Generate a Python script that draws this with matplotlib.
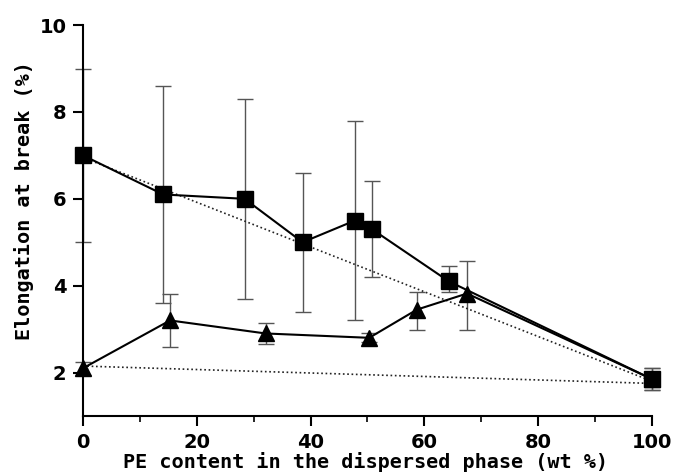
import matplotlib.pyplot as plt

# elongation at break vs PE content, squares = blend series 1, triangles = series 2
sq_x = [0, 14.1, 28.4, 38.6, 47.8, 50.8, 64.3, 100]
sq_y = [7.0, 6.1, 6.0, 5.0, 5.5, 5.3, 4.1, 1.85]
sq_lo = [5.0, 3.6, 3.7, 3.4, 3.2, 4.2, 3.85, 1.6]
sq_hi = [9.0, 8.6, 8.3, 6.6, 7.8, 6.4, 4.45, 2.1]

tri_x = [0, 15.3, 32.1, 50.3, 58.7, 67.5, 100]
tri_y = [2.1, 3.2, 2.9, 2.8, 3.45, 3.82, 1.85]
tri_lo = [1.95, 2.6, 2.65, 2.7, 2.97, 2.97, 1.6]
tri_hi = [2.25, 3.8, 3.15, 2.9, 3.85, 4.57, 2.1]

# additivity reference lines
add_sq_x = [0, 100]
add_sq_y = [6.95, 1.8]
add_tri_x = [0, 100]
add_tri_y = [2.15, 1.75]

xticks = [0, 20, 40, 60, 80, 100]
yticks = [2, 4, 6, 8, 10]

fig = plt.figure(figsize=(6.77, 4.73), dpi=100)
ax = fig.add_axes([0.1226, 0.1205, 0.8404, 0.8265])

err_kw = dict(ecolor='#555555', elinewidth=1.0, capsize=6, capthick=1.0)

sq_err = [[y - lo for y, lo in zip(sq_y, sq_lo)], [hi - y for y, hi in zip(sq_y, sq_hi)]]
tri_err = [[y - lo for y, lo in zip(tri_y, tri_lo)], [hi - y for y, hi in zip(tri_y, tri_hi)]]

ax.errorbar(sq_x, sq_y, yerr=sq_err, fmt='none', zorder=1, clip_on=False, **err_kw)
ax.errorbar(tri_x, tri_y, yerr=tri_err, fmt='none', zorder=1, clip_on=False, **err_kw)

dots = (0, (1.0, 1.6))
ax.plot(add_sq_x, add_sq_y, color='#222222', linestyle=dots, linewidth=1.2, zorder=2)
ax.plot(add_tri_x, add_tri_y, color='#222222', linestyle=dots, linewidth=1.2, zorder=2)

ax.plot(sq_x, sq_y, color='black', linewidth=1.5, marker='s', markersize=11,
        zorder=3, clip_on=False)
ax.plot(tri_x, tri_y, color='black', linewidth=1.5, marker='^', markersize=12,
        zorder=3, clip_on=False)

ax.set_xlim(0, 100)
ax.set_ylim(1, 10)
ax.spines['top'].set_visible(False)
ax.spines['right'].set_visible(False)
ax.spines['left'].set_linewidth(1.5)
ax.spines['bottom'].set_linewidth(1.5)

ax.set_xticks(xticks)
ax.set_yticks(yticks)
ax.set_xticks([10, 30, 50, 70, 90], minor=True)
ax.tick_params(axis='both', which='major', direction='out', length=7, width=1.5,
               labelsize=14, pad=5)
ax.tick_params(axis='x', which='minor', direction='out', length=4, width=1.2)
for lab in ax.get_xticklabels() + ax.get_yticklabels():
    lab.set_fontweight('bold')
    lab.set_family('DejaVu Sans')

ax.set_xlabel('PE content in the dispersed phase (wt %)', family='DejaVu Sans Mono',
              fontweight='bold', fontsize=14.5, va='center')
ax.set_ylabel('Elongation at break (%)', family='DejaVu Sans Mono',
              fontweight='bold', fontsize=14.5, va='center')
ax.xaxis.set_label_coords(0.496, -0.118)
ax.yaxis.set_label_coords(-0.104, 0.552)

fig.savefig('out.png', dpi=100)
